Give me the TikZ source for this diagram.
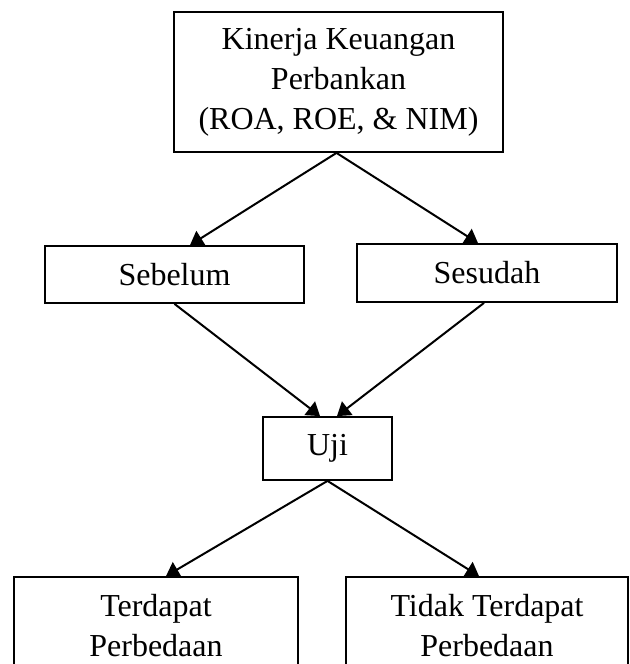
\documentclass[tikz,border=0pt]{standalone}
\usepackage{fontspec}
\setmainfont{Liberation Serif}
\usetikzlibrary{arrows.meta}

\begin{document}
\begin{tikzpicture}[
  x=0.5pt, y=-0.5pt,
  box/.style={draw,line width=0.9pt,align=center,inner sep=0pt,
    font=\fontsize{16pt}{20pt}\selectfont},
  arr/.style={-{Triangle[length=6.5pt,width=8.5pt]},line width=1pt}
]
  \useasboundingbox (0,0) rectangle (629,664);
  \clip (0,0) rectangle (629,664);

  % Alur penelitian (kerangka pemikiran)
  \node[box,minimum width=164.5pt,minimum height=70pt] (kinerja) at (338.5,82)
    {Kinerja Keuangan\\Perbankan\\(ROA, ROE, \& NIM)};
  \node[box,minimum width=129.5pt,minimum height=28.5pt] (sebelum) at (174.5,274.5) {Sebelum};
  \node[box,minimum width=130pt,minimum height=29pt] (sesudah) at (487,273) {Sesudah};
  \node[box,minimum width=64.5pt,minimum height=31.5pt] (uji) at (327.5,448.5) {Uji};
  \node[box,minimum width=142pt,minimum height=49pt] (beda) at (156,626)
    {Terdapat\\Perbedaan};
  \node[box,minimum width=141pt,minimum height=49pt] (tidakbeda) at (487,626)
    {Tidak Terdapat\\Perbedaan};

  \draw[arr] ([xshift=-1pt]kinerja.south) -- ([xshift=7.75pt]sebelum.north);
  \draw[arr] ([xshift=-1pt]kinerja.south) -- ([xshift=-4.5pt]sesudah.north);
  \draw[arr] (sebelum.south) -- ([xshift=-3.75pt]uji.north);
  \draw[arr] ([xshift=-1.5pt]sesudah.south) -- ([xshift=4.75pt]uji.north);
  \draw[arr] (uji.south) -- ([xshift=5pt]beda.north);
  \draw[arr] (uji.south) -- ([xshift=-4pt]tidakbeda.north);
\end{tikzpicture}
\end{document}
